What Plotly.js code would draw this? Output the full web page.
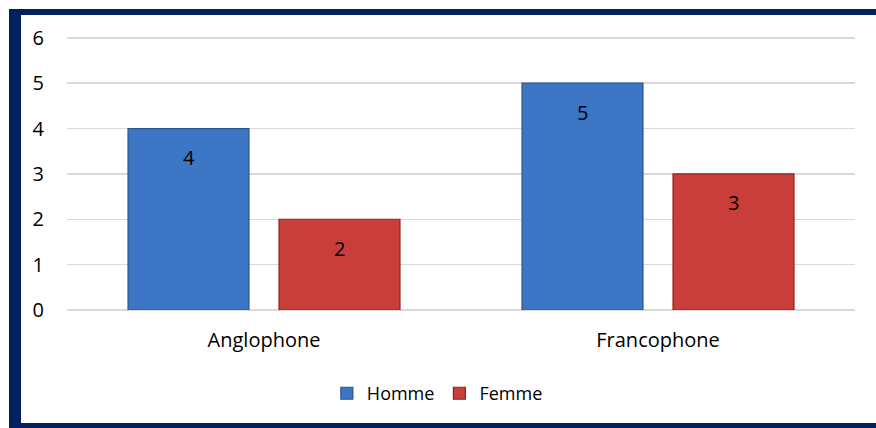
<!DOCTYPE html>
<html>
<head>
<meta charset="utf-8">
<script src="https://cdn.plot.ly/plotly-3.0.1.min.js"></script>
<style>
  html, body { margin: 0; padding: 0; background: #ffffff; }
  #chart { position: absolute; left: 0; top: 0; width: 876px; height: 428px; }
</style>
</head>
<body>
<div id="chart"></div>
<script>
const categories = ["Anglophone", "Francophone"];
const seriesNames = ["Homme", "Femme"];
const hommeValues = [4, 5];
const femmeValues = [2, 3];
const yTicks = [0, 1, 2, 3, 4, 5, 6];

const font = "Open Sans, Noto Sans, sans-serif";
const navy = "#002060";
const barGap = 0.2335;

function barTrace(name, values, fill, edge) {
  return {
    type: "bar",
    name: name,
    x: categories,
    y: values,
    marker: { color: fill, line: { color: edge, width: 1.2 } },
    hoverinfo: "x+y+name"
  };
}

const seriesList = [
  { name: seriesNames[0], values: hommeValues, fill: "#3C76C4", edge: "#2A5690" },
  { name: seriesNames[1], values: femmeValues, fill: "#C93D3A", edge: "#8A2422" }
];

const data = seriesList.map(s => barTrace(s.name, s.values, s.fill, s.edge));

// value labels placed near the top inside each bar, from the data
const slot = (1 - barGap) / seriesList.length;
const annotations = [];
seriesList.forEach((s, k) => {
  s.values.forEach((v, i) => {
    annotations.push({
      xref: "x", yref: "y",
      x: i + (k - (seriesList.length - 1) / 2) * slot,
      y: v,
      yshift: -29,
      yanchor: "middle",
      text: String(v),
      showarrow: false,
      font: { family: font, size: 20, color: "#000000" }
    });
  });
});

// frame borders (left, top, bottom) in pixels relative to the plot area
const shapes = [
  { type: "rect", layer: "above", xref: "paper", yref: "paper", xsizemode: "pixel", ysizemode: "pixel",
    xanchor: 0, x0: -58, x1: -46, yanchor: 0, y0: -120, y1: 300, fillcolor: navy, line: { width: 0 } },
  { type: "rect", layer: "above", xref: "paper", yref: "paper", xsizemode: "pixel", ysizemode: "pixel",
    xanchor: 0, x0: -58, x1: 830, yanchor: 1, y0: 21, y1: 27, fillcolor: navy, line: { width: 0 } },
  { type: "rect", layer: "above", xref: "paper", yref: "paper", xsizemode: "pixel", ysizemode: "pixel",
    xanchor: 0, x0: -58, x1: 830, yanchor: 0, y0: -113, y1: -125, fillcolor: navy, line: { width: 0 } }
];

const layout = {
  width: 876,
  height: 428,
  margin: { l: 67, r: 21, t: 36, b: 118 },
  paper_bgcolor: "#ffffff",
  plot_bgcolor: "#ffffff",
  font: { family: font, size: 19, color: "#000000" },
  barmode: "group",
  bargap: barGap,
  bargroupgap: 0.199,
  showlegend: true,
  legend: {
    orientation: "h",
    x: 0.47, xanchor: "center",
    y: -0.305, yanchor: "middle",
    font: { family: font, size: 18, color: "#000000" },
    itemwidth: 30,
    traceorder: "normal"
  },
  xaxis: {
    type: "category",
    showgrid: false,
    showline: false,
    zeroline: false,
    ticks: "",
    ticklabelstandoff: 16,
    tickfont: { family: font, size: 20, color: "#000000" }
  },
  yaxis: {
    range: [0, 6.04],
    tickvals: yTicks,
    ticktext: yTicks.map(String),
    showgrid: true,
    gridcolor: "#D9D9D9",
    gridwidth: 1.5,
    zeroline: true,
    zerolinecolor: "#D9D9D9",
    zerolinewidth: 1.5,
    showline: false,
    ticks: "",
    ticklabelstandoff: 22,
    tickfont: { family: font, size: 20, color: "#000000" }
  },
  annotations: annotations,
  shapes: shapes
};

Plotly.newPlot("chart", data, layout, { displayModeBar: false, staticPlot: true });
</script>
</body>
</html>
